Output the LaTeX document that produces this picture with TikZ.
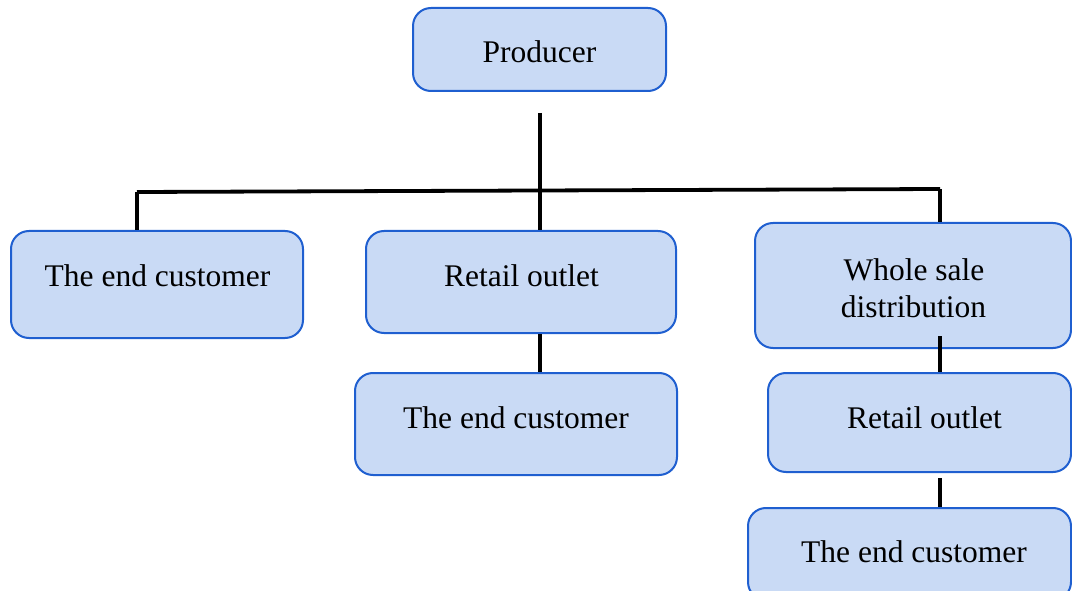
\documentclass[tikz,border=0pt]{standalone}
\usepackage{fontspec}
\setmainfont{Liberation Serif}
\definecolor{boxfill}{HTML}{C9DAF5}
\definecolor{boxline}{HTML}{1F5FD0}
\begin{document}
\begin{tikzpicture}[x=1pt,y=-1pt,
  box/.style={draw=boxline, fill=boxfill, line width=2pt, rounded corners=18pt, inner sep=0pt},
  lbl/.style={font=\fontsize{31.5}{37}\selectfont, anchor=base, inner sep=0pt},
  link/.style={line width=3.8pt, draw=black}]
\clip (0,0) rectangle (1072,591);
% boxes
\node[box, minimum width=253pt, minimum height=83pt]  (prod) at (539.5,49.5) {};
\node[box, minimum width=292pt, minimum height=107pt] (ecL)  at (157,284.5) {};
\node[box, minimum width=310pt, minimum height=102pt] (roM)  at (521,282) {};
\node[box, minimum width=316pt, minimum height=125pt] (ws)   at (913,285.5) {};
\node[box, minimum width=322pt, minimum height=102pt] (ecM)  at (516,424) {};
\node[box, minimum width=303pt, minimum height=99pt]  (roR)  at (919.5,422.5) {};
\node[box, minimum width=323pt, minimum height=92pt]  (ecR)  at (909.5,554) {};
% junction points
\coordinate (hl) at (137,192);
\coordinate (hm) at (540,190.5);
\coordinate (hr) at (940,189);
% connectors
\draw[link] (prod.south -| hm) ++(0,21) -- (roM.north -| hm);
\draw[link] (hl) -- (hr);
\draw[link] (hl) -- (hl |- ecL.north);
\draw[link] (hr) -- (hr |- ws.north);
\draw[link] (roM.south -| hm) -- (ecM.north -| hm);
\draw[link] (ws.south -| hr) ++(0,-13) -- (roR.north -| hr);
\draw[link] (roR.south -| hr) ++(0,5) -- (ecR.north -| hr);
% texts
\node[lbl] (tprod) at (539.5,63) {Producer};
\node[lbl] (tecL)  at (157.5,287) {The end customer};
\node[lbl] (troM)  at (521.5,287) {Retail outlet};
\node[lbl] (tws1)  at (914,280) {Whole sale};
\node[lbl] (tws2)  at (913.5,317) {distribution};
\node[lbl] (tecM)  at (516,428) {The end customer};
\node[lbl] (troR)  at (924.5,428) {Retail outlet};
\node[lbl] (tecR)  at (914,562) {The end customer};
\end{tikzpicture}
\end{document}
